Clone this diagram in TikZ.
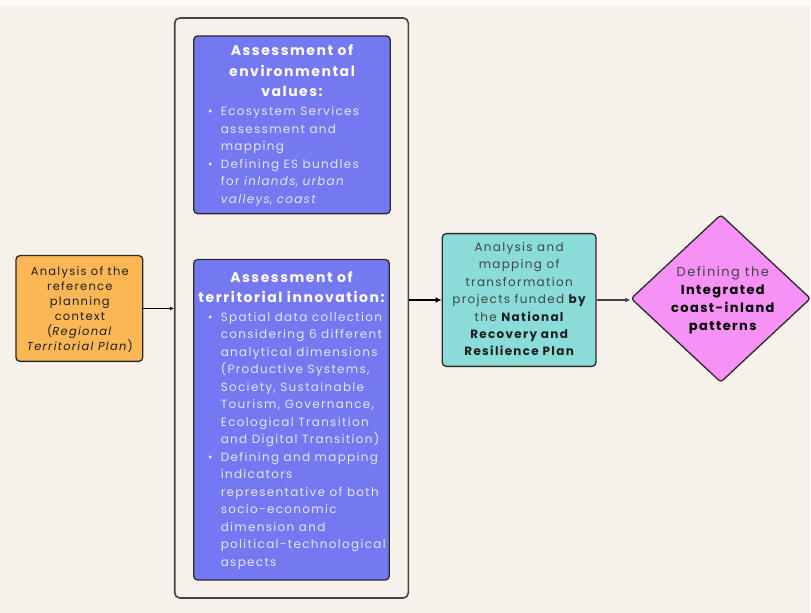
\documentclass[tikz,border=0pt]{standalone}
\usepackage{fontspec}
\setmainfont{Poppins}[LetterSpace=11]
\usetikzlibrary{arrows.meta,shapes.geometric}
\definecolor{bg}{HTML}{F6F2EA}
\definecolor{bgtop}{HTML}{FBFAF7}
\definecolor{orangefill}{HTML}{FBB755}
\definecolor{bluefill}{HTML}{7479F2}
\definecolor{tealfill}{HTML}{8ADCD8}
\definecolor{pinkfill}{HTML}{F691F6}
\definecolor{edge}{HTML}{2A2A2A}
\definecolor{bullettext}{HTML}{E4E5FA}
\definecolor{darktext}{HTML}{1E1E1E}
\definecolor{greytext}{HTML}{444444}
\begin{document}
\begin{tikzpicture}[x=1pt,y=-1pt,
  box/.style={draw=edge,line width=1.3pt,rounded corners=4pt,inner sep=0pt},
  bluebox/.style={box,fill=bluefill},
  txt/.style={inner sep=0pt,anchor=base},
  heading/.style={txt,align=center,text=white,font=\fontsize{14}{20.5}\selectfont\bfseries},
  bullets/.style={txt,anchor=base west,align=left,text=bullettext,font=\fontsize{12}{17.5}\selectfont},
  conn/.style={line width=1.2pt,draw=black}
]
\newcommand{\bul}{\llap{\textbullet\hspace{8pt}}}
\fill[bg] (0,0) rectangle (811,614);
\fill[bgtop] (0,0) rectangle (811,6);

% container
\node[draw=greytext,line width=1.6pt,rounded corners=5pt,minimum width=234pt,minimum height=581pt,inner sep=0pt] (cont) at (292,308.5) {};

% left box (base anchor = baseline of last line)
\node[box,fill=orangefill,minimum width=127pt,minimum height=106pt] (orange) at (79.5,309) {};
\node[txt,align=center,text=darktext,font=\fontsize{11.5}{15.1}\selectfont] (orangetxt) at (80,351)
 {Analysis of the\\reference\\planning\\context\\(\textit{Regional}\\\textit{Territorial Plan})};

% top blue box
\node[bluebox,minimum width=197pt,minimum height=178pt] (env) at (292.5,125) {};
\node[heading] (envhead) at (292.5,97) {Assessment of\\environmental\\values:};
\node[bullets] (envlist) at (221,203.5)
 {\bul Ecosystem Services\\assessment and\\mapping\\
  \bul Defining ES bundles\\for \textit{inlands}, \textit{urban}\\\textit{valleys}, \textit{coast}};

% bottom blue box
\node[bluebox,minimum width=196pt,minimum height=321pt] (terr) at (292,420.5) {};
\node[heading] (terrhead) at (292,303) {Assessment of\\territorial innovation:};
\node[bullets] (terrlist) at (221,567)
 {\bul Spatial data collection\\considering 6 different\\analytical dimensions\\(Productive Systems,\\Society, Sustainable\\Tourism, Governance,\\Ecological Transition\\and Digital Transition)\\
  \bul Defining and mapping\\indicators\\representative of both\\socio-economic\\dimension and\\political-technological\\aspects};

% teal box
\node[box,fill=tealfill,minimum width=154pt,minimum height=133pt] (teal) at (520,300.5) {};
\node[txt,align=center,text=greytext,font=\fontsize{12}{17.4}\selectfont] (tealtxt) at (520,356.4)
 {Analysis and\\mapping of\\transformation\\projects funded \textcolor{darktext}{\bfseries by}\\the \textcolor{darktext}{\bfseries National}\\\textcolor{darktext}{\bfseries Recovery and}\\\textcolor{darktext}{\bfseries Resilience Plan}};

% diamond
\node[diamond,draw=edge,line width=1.3pt,fill=pinkfill,rounded corners=3pt,minimum width=180pt,minimum height=168pt,inner sep=0pt] (goal) at (722,299) {};
\node[txt,align=center,text=black,font=\fontsize{13}{18}\selectfont] (goaltxt) at (724,331)
 {\textcolor{greytext}{Defining the}\\\bfseries Integrated\\\bfseries coast-inland\\\bfseries patterns};

% connectors
\draw[conn,-{Latex[length=4pt,width=4pt]}] (orange.east) -- (orange.east -| cont.west);
\draw[line width=1.9pt,-{Latex[length=6pt,width=6pt]}] (cont.east |- teal.west) -- (teal.west);
\draw[line width=1.2pt,draw=greytext,-{Latex[length=5pt,width=5pt]}] (teal.east) -- (teal.east -| goal.west);
\end{tikzpicture}
\end{document}
